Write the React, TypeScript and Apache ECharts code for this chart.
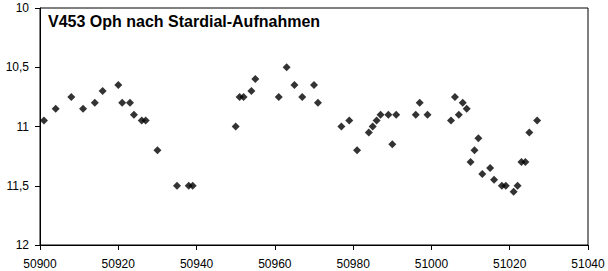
import React, { useEffect, useRef } from "react";
import * as echarts from "echarts";

const titleText = "V453 Oph nach Stardial-Aufnahmen";

// Julian day (JD - 2400000) of each observation
const days = [
  50901, 50904, 50908, 50911, 50914, 50916, 50920, 50921, 50923, 50924, 50926, 50927,
  50930, 50935, 50938, 50939,
  50950, 50951, 50952, 50954, 50955, 50961, 50963, 50965, 50967, 50970, 50971,
  50977, 50979, 50981, 50984, 50985, 50986, 50987, 50989, 50990, 50991, 50996, 50997, 50999,
  51005, 51006, 51007, 51008, 51009, 51010, 51011, 51012, 51013, 51015, 51016, 51018, 51019,
  51021, 51022, 51023, 51024, 51025, 51027,
];

// Magnitude of each observation
const mags = [
  10.95, 10.85, 10.75, 10.85, 10.8, 10.7, 10.65, 10.8, 10.8, 10.9, 10.95, 10.95,
  11.2, 11.5, 11.5, 11.5,
  11.0, 10.75, 10.75, 10.7, 10.6, 10.75, 10.5, 10.65, 10.75, 10.65, 10.8,
  11.0, 10.95, 11.2, 11.05, 11.0, 10.95, 10.9, 10.9, 11.15, 10.9, 10.9, 10.8, 10.9,
  10.95, 10.75, 10.9, 10.8, 10.85, 11.3, 11.2, 11.1, 11.4, 11.35, 11.45, 11.5, 11.5,
  11.55, 11.5, 11.3, 11.3, 11.05, 10.95,
];

const xMin = 50900;
const xMax = 51040;
const xStep = 20;
const yMin = 10;
const yMax = 12;
const yStep = 0.5;

export default function App() {
  const ref = useRef<HTMLDivElement>(null);

  useEffect(() => {
    if (!ref.current) return;
    const chart = echarts.init(ref.current, null, { renderer: "svg" });
    const font = "Arial, 'Liberation Sans', sans-serif";
    chart.setOption({
      animation: false,
      backgroundColor: "#ffffff",
      title: {
        text: titleText,
        left: 48,
        top: 13,
        padding: 0,
        textStyle: {
          fontFamily: font,
          fontSize: 16,
          fontWeight: "bold",
          color: "#000",
        },
      },
      grid: {
        left: 40,
        top: 8,
        right: 20,
        bottom: 26,
        show: true,
        borderColor: "#000",
        borderWidth: 1,
        backgroundColor: "transparent",
      },
      xAxis: {
        type: "value",
        min: xMin,
        max: xMax,
        interval: xStep,
        axisLine: { show: true, onZero: false, lineStyle: { color: "#000", width: 1 } },
        axisTick: { show: true, inside: false, length: 5, lineStyle: { color: "#000" } },
        splitLine: { show: false },
        axisLabel: {
          color: "#000",
          fontFamily: font,
          fontSize: 12,
          margin: 13,
          formatter: (v: number) => String(v),
        },
      },
      yAxis: {
        type: "value",
        inverse: true,
        min: yMin,
        max: yMax,
        interval: yStep,
        axisLine: { show: true, onZero: false, lineStyle: { color: "#000", width: 1 } },
        axisTick: { show: true, inside: false, length: 5, lineStyle: { color: "#000" } },
        splitLine: { show: false },
        axisLabel: {
          color: "#000",
          fontFamily: font,
          fontSize: 12,
          margin: 11,
          formatter: (v: number) => String(v).replace(".", ","),
        },
      },
      series: [
        {
          type: "scatter",
          symbol: "diamond",
          symbolSize: 8,
          itemStyle: { color: "#000" },
          data: days.map((d, i) => [d, mags[i]]),
        },
      ],
    });
    return () => chart.dispose();
  }, []);

  return (
    <div
      ref={ref}
      style={{ position: "absolute", left: 0, top: 0, width: 608, height: 271 }}
    />
  );
}
